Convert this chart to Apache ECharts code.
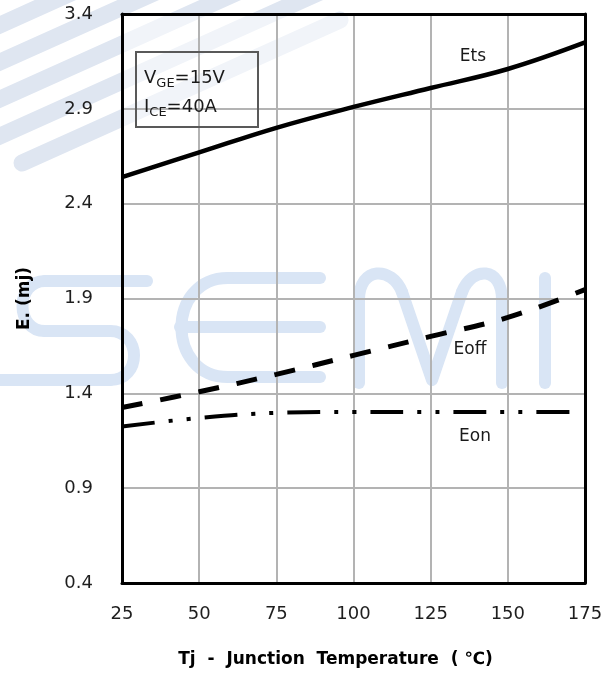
<!DOCTYPE html>
<html>
<head>
<meta charset="utf-8">
<script src="https://cdn.jsdelivr.net/npm/echarts@6/dist/echarts.min.js"></script>
<style>
    html, body { margin: 0; padding: 0; background: #fff; }
    #chart { width: 607px; height: 675px; }
</style>
</head>
<body>
<div id="chart"></div>
<script>
// 数据
var temps = [25, 50, 75, 100, 125, 150, 175];
var etsVals = [2.54, 2.67, 2.80, 2.91, 3.01, 3.11, 3.25];
var eoffVals = [1.325, 1.408, 1.50, 1.60, 1.70, 1.80, 1.947];
var eonTemps = [25, 50, 75, 100, 125, 150, 172];
var eonVals = [1.225, 1.27, 1.297, 1.302, 1.302, 1.302, 1.302];
var xTicks = [25, 175, 25];      // min, max, interval
var yTicks = [0.4, 3.4, 0.5];

function pairs(xs, ys) {
    var out = [];
    for (var i = 0; i < xs.length; i++) {
        out.push([xs[i], ys[i]]);
    }
    return out;
}

var myChart = echarts.init(document.getElementById("chart"));

// 水印 (背景的斜条和 SEMI 字样)
var wmBlue = '#d9e5f5';
var stripe = '#dfe6f1';
var watermark = [];
[[[22, 163], [340, 20]], [[-20, 145], [329, -12]], [[-20, 108], [247, -12]],
 [[-20, 71], [165, -12]], [[-20, 34], [82, -12]]].forEach(function (p) {
    watermark.push({
        type: 'polyline', z: -3, silent: true, shape: { points: p },
        style: { fill: 'none', stroke: stripe, lineWidth: 17, lineCap: 'round' }
    });
});
// 图内的斜条更淡
watermark.push({
    type: 'rect', z: -2, silent: true,
    shape: { x: 122, y: 14, width: 463, height: 569 },
    style: { fill: 'rgba(255,255,255,0.55)' }
});
function wmLine(points) {
    watermark.push({
        type: 'polyline', z: -1, silent: true, shape: { points: points },
        style: { fill: 'none', stroke: wmBlue, lineWidth: 12, lineCap: 'round', lineJoin: 'round' }
    });
}
function wmCurve(x1, y1, c1x, c1y, c2x, c2y, x2, y2) {
    watermark.push({
        type: 'bezierCurve', z: -1, silent: true,
        shape: { x1: x1, y1: y1, cpx1: c1x, cpy1: c1y, cpx2: c2x, cpy2: c2y, x2: x2, y2: y2 },
        style: { fill: 'none', stroke: wmBlue, lineWidth: 12, lineCap: 'round' }
    });
}
// S
wmLine([[147, 281], [45, 281]]);
wmCurve(45, 281, 15, 281, 15, 331, 45, 331);
wmLine([[45, 331], [110, 331]]);
wmCurve(110, 331, 142, 331, 142, 380, 110, 380);
wmLine([[110, 380], [-10, 380]]);
// E
wmLine([[320, 278], [228, 278]]);
wmCurve(228, 278, 166, 278, 166, 377, 228, 377);
wmLine([[228, 377], [320, 377]]);
wmLine([[180, 327], [320, 327]]);
// M
wmLine([[359, 383], [359, 300]]);
wmCurve(359, 300, 359, 266, 392, 266, 402, 292);
wmLine([[402, 292], [432, 380], [462, 292]]);
wmCurve(462, 292, 472, 266, 502, 266, 502, 300);
wmLine([[502, 300], [502, 383]]);
// I
wmLine([[545, 278], [545, 383]]);

function label(text, x, y) {
    return {
        type: 'text', z: 6, x: x, y: y,
        style: { text: text, align: 'center', verticalAlign: 'middle', fontFamily: 'DejaVu Sans', fontSize: 17, fill: '#1a1a1a' }
    };
}

var border = { lineStyle: { color: '#000', width: 3 } };

var option = {
    backgroundColor: '#fff',
    animation: false,
    grid: { left: 122, right: 22, top: 14, bottom: 92 },
    xAxis: [{
        type: 'value',
        min: xTicks[0], max: xTicks[1], interval: xTicks[2],
        name: 'Tj  -  Junction  Temperature  ( ℃)',
        nameLocation: 'middle',
        nameGap: 68,
        nameTextStyle: {
            fontFamily: 'DejaVu Sans', fontSize: 17, fontWeight: 'bold', color: '#000',
            padding: [0, 36, 0, 0]
        },
        axisLine: border,
        axisTick: { show: false },
        axisLabel: { margin: 22, fontFamily: 'DejaVu Sans', fontSize: 18, color: '#1e1e1e' },
        splitLine: { lineStyle: { color: '#b3b3b3', width: 2 } },
        z: 3
    }, {
        type: 'value', position: 'top',
        min: xTicks[0], max: xTicks[1], interval: xTicks[2],
        axisLine: border, axisTick: { show: false }, axisLabel: { show: false },
        splitLine: { show: false }, z: 3
    }],
    yAxis: [{
        type: 'value',
        min: yTicks[0], max: yTicks[1], interval: yTicks[2],
        name: 'E. (mj)',
        nameLocation: 'middle',
        nameGap: 89,
        nameTextStyle: { fontFamily: 'DejaVu Sans', fontSize: 17, fontWeight: 'bold', color: '#000' },
        axisLine: border,
        axisTick: { show: false },
        axisLabel: {
            margin: 29, fontFamily: 'DejaVu Sans', fontSize: 18, color: '#1e1e1e',
            formatter: function (v) { return v.toFixed(1); }
        },
        splitLine: { lineStyle: { color: '#b3b3b3', width: 2 } },
        z: 3
    }, {
        type: 'value', position: 'right',
        min: yTicks[0], max: yTicks[1], interval: yTicks[2],
        axisLine: border, axisTick: { show: false }, axisLabel: { show: false },
        splitLine: { show: false }, z: 3
    }],
    series: [
        {
            name: 'Ets', type: 'line', data: pairs(temps, etsVals),
            smooth: 0.4, symbol: 'none',
            lineStyle: { color: '#000', width: 4.5 }
        },
        {
            name: 'Eoff', type: 'line', data: pairs(temps, eoffVals),
            smooth: 0.4, symbol: 'none',
            lineStyle: { color: '#000', width: 5, type: [21, 18], cap: 'butt' }
        },
        {
            name: 'Eon', type: 'line', data: pairs(eonTemps, eonVals),
            smooth: 0.4, symbol: 'none',
            lineStyle: { color: '#000', width: 4, type: [33, 14, 4, 14, 4, 14], cap: 'butt' }
        }
    ],
    graphic: watermark.concat([
        {
            type: 'rect', z: 5,
            shape: { x: 136, y: 52, width: 122, height: 75 },
            style: { fill: 'none', stroke: '#595959', lineWidth: 2 }
        },
        {
            type: 'text', z: 6, x: 144, y: 64,
            style: {
                text: '{m|V}{s|GE}{m|=15V}\n{m|I}{s|CE}{m|=40A}',
                verticalAlign: 'top',
                rich: {
                    m: { fontFamily: 'DejaVu Sans', fontSize: 18, lineHeight: 29, fill: '#1a1a1a' },
                    s: { fontFamily: 'DejaVu Sans', fontSize: 13, lineHeight: 29, fill: '#1a1a1a', verticalAlign: 'bottom', padding: [0, 0, 3, 0] }
                }
            }
        },
        label('Ets', 473, 57),
        label('Eoff', 470, 350),
        label('Eon', 475, 437)
    ])
};
myChart.setOption(option);
</script>
</body>
</html>
